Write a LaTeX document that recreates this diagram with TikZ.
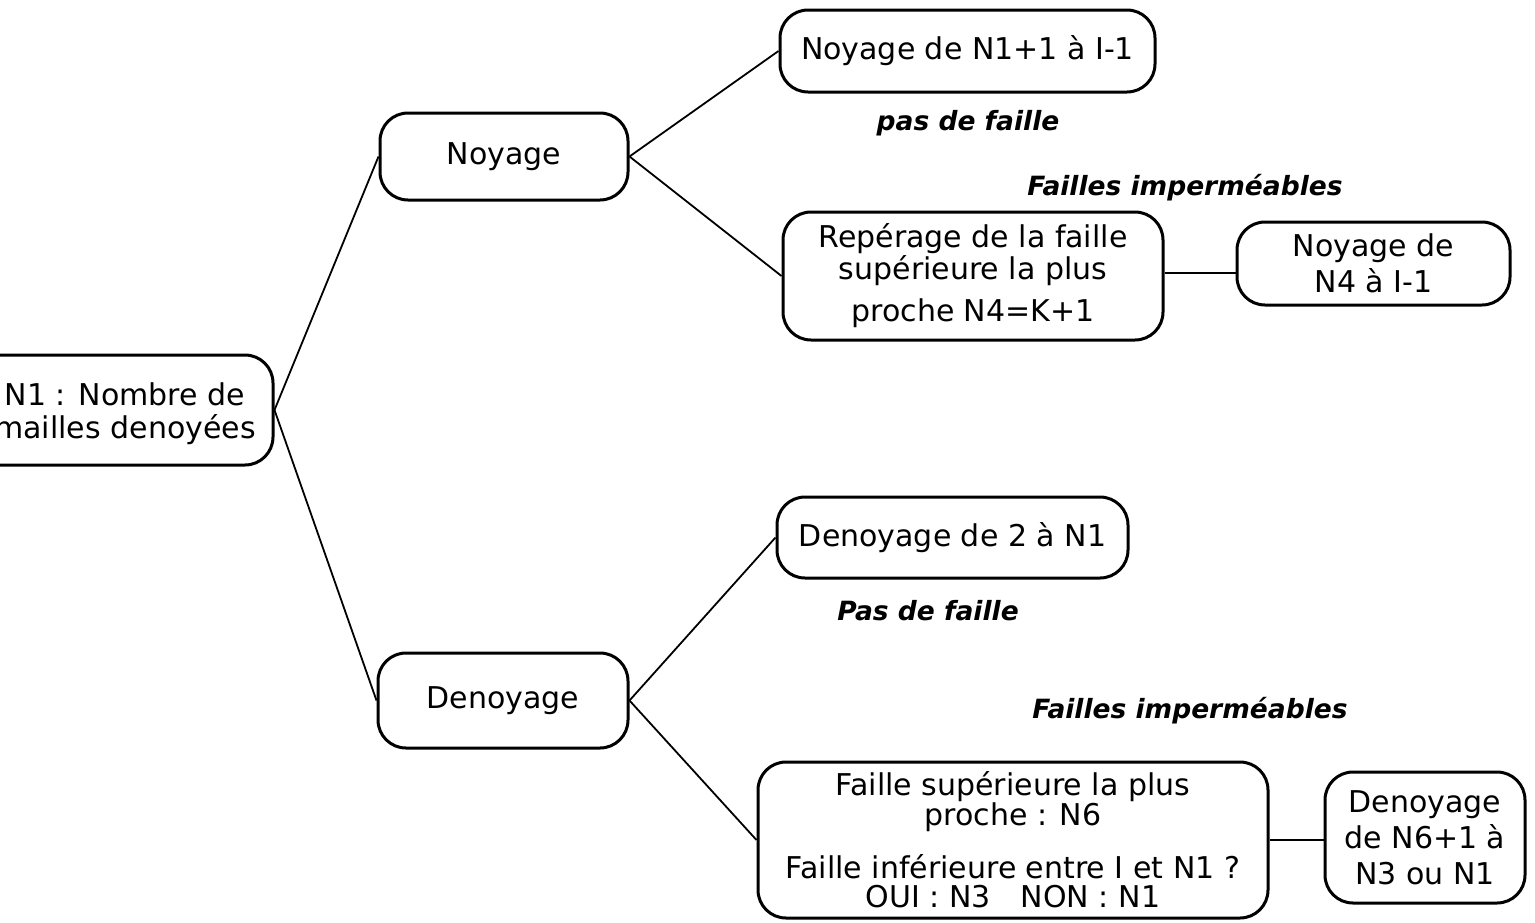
\documentclass[tikz,border=0pt]{standalone}
\usepackage{fontspec}
\setmainfont{DejaVu Sans}
\begin{document}
\begin{tikzpicture}[x=1pt,y=-1pt,
  box/.style={draw,line width=3pt,rounded corners=28pt,align=center,inner sep=0pt,
    font=\fontsize{30}{36}\selectfont},
  lab/.style={font=\fontsize{26.5}{30}\selectfont\bfseries\itshape,inner sep=0pt},
  conn/.style={line width=1.8pt}]
\useasboundingbox (0,0) rectangle (1535,922);
\node[box,minimum width=302pt,minimum height=110pt] (n1) at (122,410) {};
\node[align=center,inner sep=0pt,font=\fontsize{30}{36}\selectfont] (n1t) at (125,414) {N1 : Nombre de\\[-3pt]mailles denoyées};
\node[box,minimum width=248pt,minimum height=87pt] (noy) at (504,156.5) {Noyage};
\node[box,minimum width=250pt,minimum height=95pt] (den) at (503,700.5) {Denoyage};
\node[box,minimum width=375pt,minimum height=82pt] (a) at (967.5,51) {Noyage de N1+1 à I-1};
\node[box,minimum width=380pt,minimum height=128pt] (b) at (973,276) {Repérage de la faille\\[-4pt]supérieure la plus\\[6pt]proche N4=K+1};
\node[box,minimum width=273pt,minimum height=83pt] (c) at (1373.5,263.5) {Noyage de\\N4 à I-1};
\node[box,minimum width=351pt,minimum height=81pt] (d) at (952.5,537.5) {Denoyage de 2 à N1};
\node[box,minimum width=510pt,minimum height=156pt,font=\fontsize{30}{29}\selectfont] (e) at (1013,840) {Faille supérieure la plus\\proche : N6\\[22pt]Faille inférieure entre I et N1 ?\\OUI : N3\quad NON : N1};
\node[box,minimum width=200pt,minimum height=131pt] (f) at (1425,837.5) {Denoyage\\de N6+1 à\\N3 ou N1};
\node[lab] (l1) at (968,123) {pas de faille};
\node[lab] (l2) at (1185,188) {Failles imperméables};
\node[lab] (l3) at (928,611) {Pas de faille};
\node[lab] (l4) at (1190,711) {Failles imperméables};
\draw[conn] (n1.east) -- (noy.west);
\draw[conn] (n1.east) -- (den.west);
\draw[conn] (noy.east) -- (a.west);
\draw[conn] (noy.east) -- (b.west);
\draw[conn,line width=2.5pt] ([yshift=3pt]b.east) -- ([yshift=3pt]b.east -| c.west);
\draw[conn] (den.east) -- (d.west);
\draw[conn] (den.east) -- (e.west);
\draw[conn,line width=2.5pt] (e.east) -- (e.east -| f.west);
\end{tikzpicture}
\end{document}
